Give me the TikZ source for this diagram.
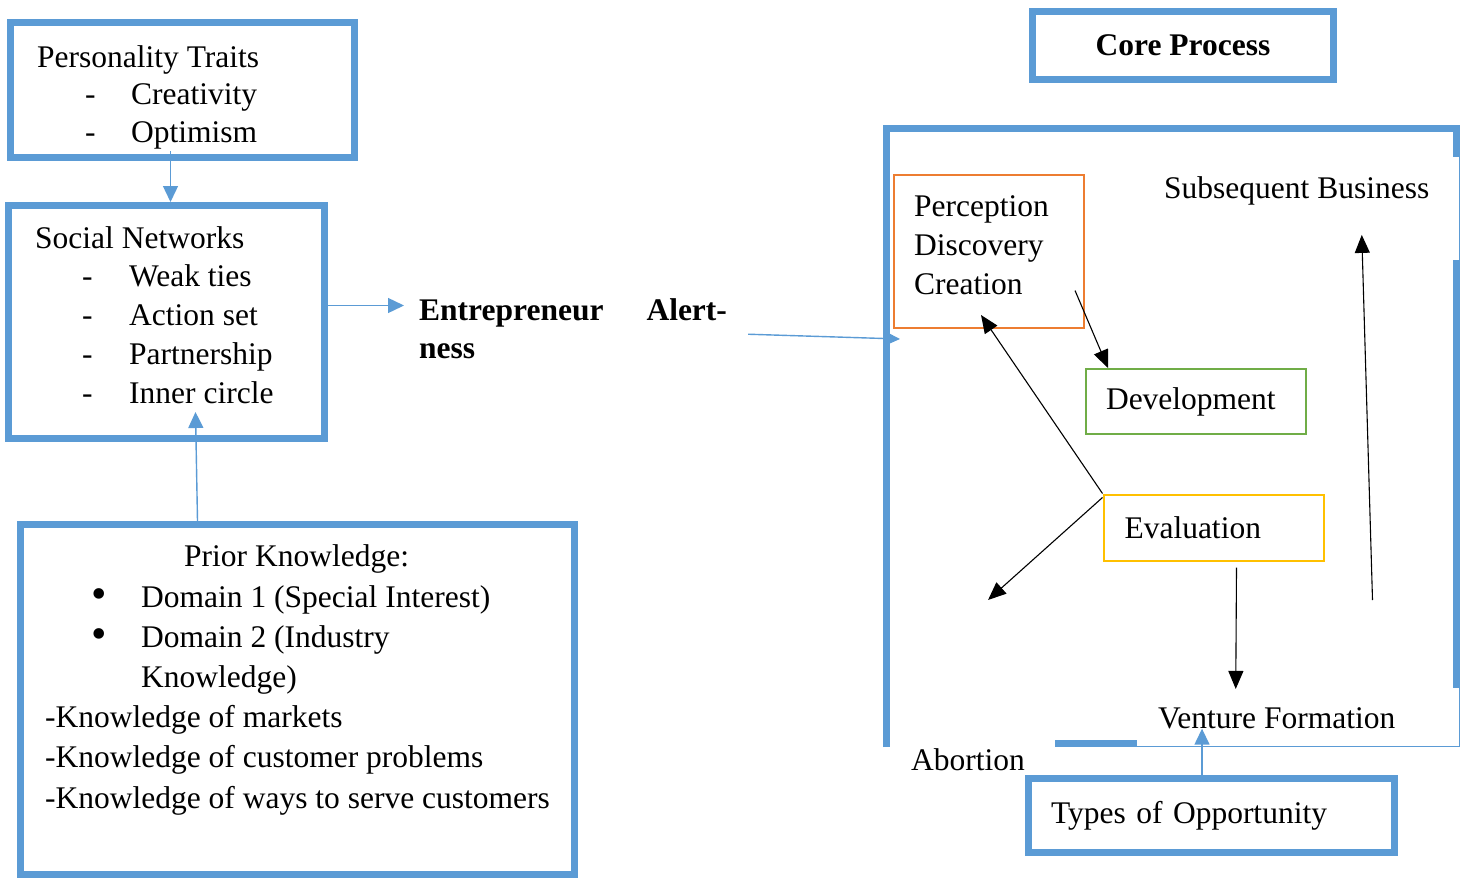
\documentclass[tikz,border=0pt]{standalone}
\usepackage{fontspec}
\setmainfont{Liberation Serif}
\usetikzlibrary{arrows.meta}
\definecolor{bxblue}{HTML}{5B9BD5}
\definecolor{bxorange}{HTML}{ED7D31}
\definecolor{bxgreen}{HTML}{70AD47}
\definecolor{bxyellow}{HTML}{FFC000}
\newcommand{\bigdot}{\raisebox{-1pt}{\scalebox{1.4}{\textbullet}}}
\begin{document}
\begin{tikzpicture}[x=1pt,y=-1pt,
    txt/.style={inner sep=0pt,font=\fontsize{31.5}{#1}\selectfont},
    txt/.default=39,
    bluebox/.style={draw=bxblue,line width=7pt,txt,inner sep=0pt},
    thinbox/.style={draw=#1,line width=2pt,txt,align=left},
    barr/.style={draw=bxblue,line width=1.4pt,-{Triangle[length=16pt,width=15pt]}},
    karr/.style={draw=black,line width=1.1pt,-{Triangle[length=18pt,width=15pt]}}]
                        \useasboundingbox (0,0) rectangle (1463,878);
                        \node[bluebox,minimum width=344pt,minimum height=135pt] (pt) at (182.5,90) {};
                        \node[txt=37.5,anchor=base west,align=left] (pttext) at (37,142)
                            {Personality Traits\\\hspace*{48pt}\makebox[46pt][l]{-}Creativity\\\hspace*{48pt}\makebox[46pt][l]{-}Optimism};
                        \node[bluebox,minimum width=316pt,minimum height=233pt] (sn) at (166.5,322) {};
                        \node[txt=38.75,anchor=base west,align=left] (sntext) at (35,403)
                            {Social Networks\\\hspace*{47pt}\makebox[47pt][l]{-}Weak ties\\\hspace*{47pt}\makebox[47pt][l]{-}Action set\\\hspace*{47pt}\makebox[47pt][l]{-}Partnership\\\hspace*{47pt}\makebox[47pt][l]{-}Inner circle};
                        \node[bluebox,minimum width=554pt,minimum height=350pt] (pk) at (297.5,699.5) {};
                        \node[txt=40.2,anchor=base west,align=left] (pktext) at (45,808)
                            {\hspace*{139pt}Prior Knowledge:\\\hspace*{46pt}\makebox[50pt][l]{\bigdot}Domain 1 (Special Interest)\\\hspace*{46pt}\makebox[50pt][l]{\bigdot}Domain 2 (Industry\\\hspace*{96pt}Knowledge)\\-Knowledge of markets\\-Knowledge of customer problems\\-Knowledge of ways to serve customers};
                        \node[txt=38,anchor=base west,align=left] (ent) at (419,358)
                            {\textbf{Entrepreneur\hspace{43pt}Alert-}\\\textbf{ness}};
                        \node[bluebox,minimum width=301pt,minimum height=68pt] (core) at (1183,45.5) {\textbf{Core Process}};
                        \node[minimum width=577pt,minimum height=622pt,inner sep=0pt,outer sep=0pt] (proc) at (1171.5,436) {};
                        \draw[bxblue,line width=7pt] (886.5,747) -- (886.5,128.5) -- (1456.5,128.5) -- (1456.5,157);
                        \draw[bxblue,line width=7pt] (1456.5,260) -- (1456.5,688);
                        \draw[bxblue,line width=7pt] (1055,743.5) -- (1137,743.5);
                        \draw[bxblue,line width=1.2pt] (1459.5,157) -- (1459.5,260);
                        \draw[bxblue,line width=1.2pt] (1459.5,688) -- (1459.5,746.5) -- (1137,746.5);
                        \node[draw=bxorange,line width=2pt,minimum width=190pt,minimum height=153pt] (perc) at (989,251.5) {};
                        \node[txt,anchor=base west,align=left] (perctext) at (914,294) {Perception\\Discovery\\Creation};
                        \node[thinbox=bxgreen,minimum width=220pt,minimum height=65pt,text width=180pt,inner xsep=20pt] (dev) at (1196,401.5) {Development};
                        \node[thinbox=bxyellow,minimum width=220pt,minimum height=66pt,text width=178pt,inner xsep=21pt] (eval) at (1213.5,527.5) {Evaluation};
                        \node[txt,anchor=base west] (sb) at (1164,198) {Subsequent Business};
                        \node[txt,anchor=base west] (vf) at (1158,728) {Venture Formation};
                        \node[txt,anchor=base west] (abort) at (911,770) {Abortion};
                        \node[bluebox,align=left,minimum width=366pt,minimum height=74pt,text width=321pt,inner xsep=22.5pt] (types) at (1211.5,815.5) {Types of Opportunity};
                        \draw[barr] ([xshift=-12pt,yshift=10pt]pt.south) -- ([xshift=4pt]sn.north);
                        \draw[barr] ([xshift=-100pt]pk.north) -- ([xshift=29pt,yshift=30pt]sn.south);
                        \draw[barr,shorten >=15pt] ([yshift=16.5pt]sn.east) -- ([yshift=16.5pt]sn.east -| ent.west);
                        \draw[barr] ([xshift=21pt,yshift=-6pt]ent.east) -- ([xshift=17pt,yshift=97pt]proc.west);
                        \draw[barr] ([xshift=-9.5pt]types.north) -- ([xshift=-9.5pt]types.north |- vf.south);
                        \draw[karr] ([xshift=-10pt,yshift=-39pt]perc.east) -- ([xshift=-88pt]dev.north);
                        \draw[karr] (eval.north west) -- ([xshift=-8pt,yshift=14pt]perc.south);
                        \draw[karr] ([yshift=-4pt]eval.north west) -- ([xshift=20pt,yshift=148pt]abort.north);
                        \draw[karr] ([xshift=23pt,yshift=-6pt]eval.south) -- ([xshift=-41pt,yshift=18pt]vf.north);
                        \draw[karr] ([xshift=48pt,yshift=-72.5pt]eval.east) -- ([xshift=65pt,yshift=-30pt]sb.south);
                    \end{tikzpicture}
\end{document}
